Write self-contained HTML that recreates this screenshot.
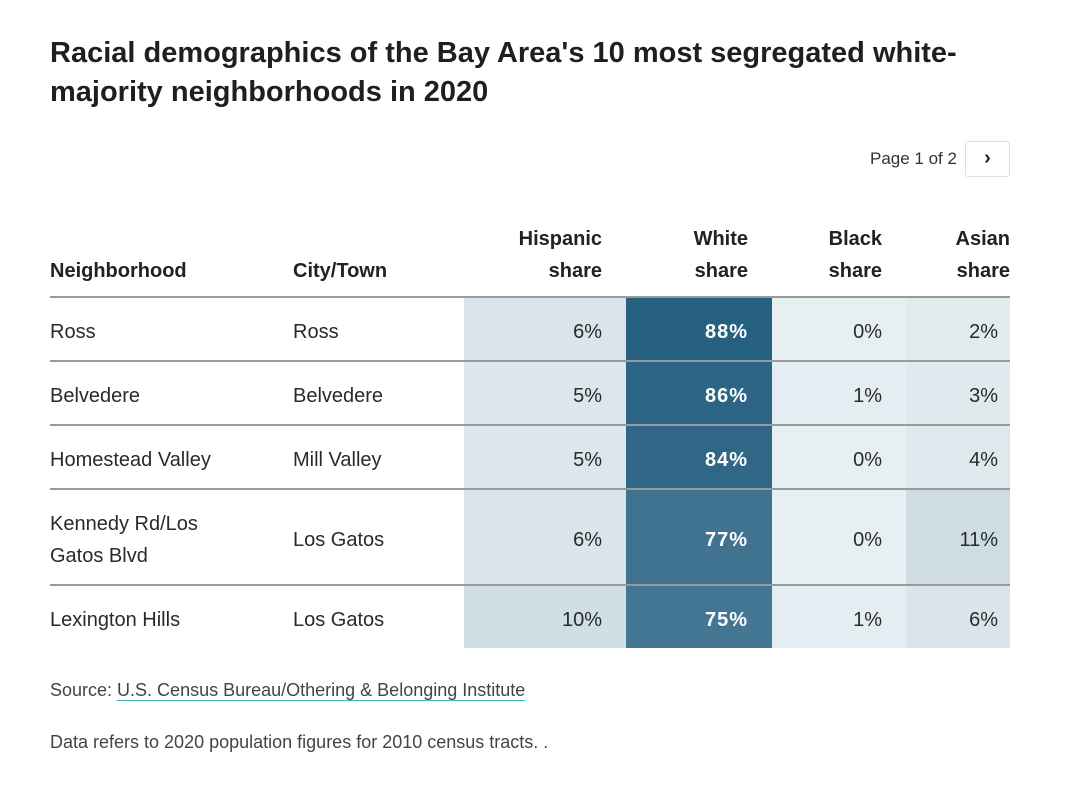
<!DOCTYPE html>
<html><head><meta charset="utf-8"><style>
body{margin:0;width:1066px;height:794px;background:#fff;font-family:"Liberation Sans",sans-serif;color:#222;position:relative;overflow:hidden}
.a{position:absolute;white-space:nowrap}
#title{left:50px;top:34px;font-size:29px;font-weight:bold;line-height:39px;color:#1f1f1f;white-space:nowrap}
.h{font-size:20px;font-weight:bold;line-height:32px;color:#222}
.c{font-size:20px;line-height:32px;color:#2a2a2a}
.line{position:absolute;left:50px;width:960px;height:2px;background:#9a9a9a}
.cell{position:absolute}
</style></head><body>
<div id="title" class="a">Racial demographics of the Bay Area's 10 most segregated white-<br>majority neighborhoods in 2020</div>
<div class="a" style="left:870px;top:149px;font-size:17px;color:#333">Page 1 of 2</div>
<div class="a" style="left:965px;top:141px;width:43px;height:34px;border:1px solid #ddd;border-radius:3px;text-align:center;line-height:32px;font-size:20px;font-weight:bold;color:#222">›</div>
<div id="tbl"></div>
<div class="a" style="left:50px;top:680px;font-size:18px;color:#444">Source: <span style="text-decoration:underline;text-decoration-color:#4bb;text-underline-offset:4px">U.S. Census Bureau/Othering &amp; Belonging Institute</span></div>
<div class="a" style="left:50px;top:732px;font-size:18px;color:#444">Data refers to 2020 population figures for 2010 census tracts. .</div>
<script>
const neighborhoods=["Ross","Belvedere","Homestead Valley","Kennedy Rd/Los<br>Gatos Blvd","Lexington Hills"];
const cities=["Ross","Belvedere","Mill Valley","Los Gatos","Los Gatos"];
const hispanic=[6,5,5,6,10];
const white=[88,86,84,77,75];
const black=[0,1,0,0,1];
const asian=[2,3,4,11,6];
const headers=["Neighborhood","City/Town","Hispanic<br>share","White<br>share","Black<br>share","Asian<br>share"];
const colL=[50,293,464,626,772,906], colR=[293,464,626,772,906,1010];
const rowTop=[297,361,425,489,585], rowBot=[361,425,489,585,648];
const tbl=document.getElementById('tbl');
function color(v){const t=Math.min(v/88,1.05);const a=[230,239,242],b=[39,97,130];return 'rgb('+a.map((x,i)=>Math.round(x+(b[i]-x)*t)).join(',')+')';}
headers.forEach((h,i)=>{const d=document.createElement('div');d.className='a h';


d.innerHTML=h;
if(i<2){d.style.left=colL[i]+'px';d.style.top='255px';}
else{d.style.right=(1066-colR[i]+(i==5?0:24))+'px';d.style.textAlign='right';d.style.top='223px';}
tbl.appendChild(d);});
const nums=[hispanic,white,black,asian];
neighborhoods.forEach((n,r)=>{
 const h=rowBot[r]-rowTop[r];
 nums.forEach((arr,j)=>{const c=document.createElement('div');c.className='cell';
 
 
 const ci=j+2;c.style.left=colL[ci]+'px';c.style.width=(colR[ci]-colL[ci])+'px';c.style.top=rowTop[r]+'px';c.style.height=h+'px';c.style.background=color(arr[r]);tbl.appendChild(c);
 const t=document.createElement('div');t.className='a c';
 
 
 t.textContent=arr[r]+'%';t.style.right=(1066-colR[ci]+(ci==5?12:24))+'px';t.style.top=(rowTop[r]+h/2-16+3)+'px';
 if(j==1){t.style.color='#fff';t.style.fontWeight='bold';t.style.letterSpacing='1px';}
 tbl.appendChild(t);});
 const a=document.createElement('div');a.className='a c';
 
 
 a.innerHTML=n;a.style.left='50px';const lines=n.includes('<br>')?2:1;a.style.top=(rowTop[r]+h/2-16*lines+3)+'px';tbl.appendChild(a);
 const b=document.createElement('div');b.className='a c';
 
 
 b.textContent=cities[r];b.style.left='293px';b.style.top=(rowTop[r]+h/2-16+3)+'px';tbl.appendChild(b);
});
rowTop.forEach((y,i)=>{const l=document.createElement('div');l.className='line';


l.style.top=(y-1)+'px';tbl.appendChild(l);});
</script>
</body></html>
